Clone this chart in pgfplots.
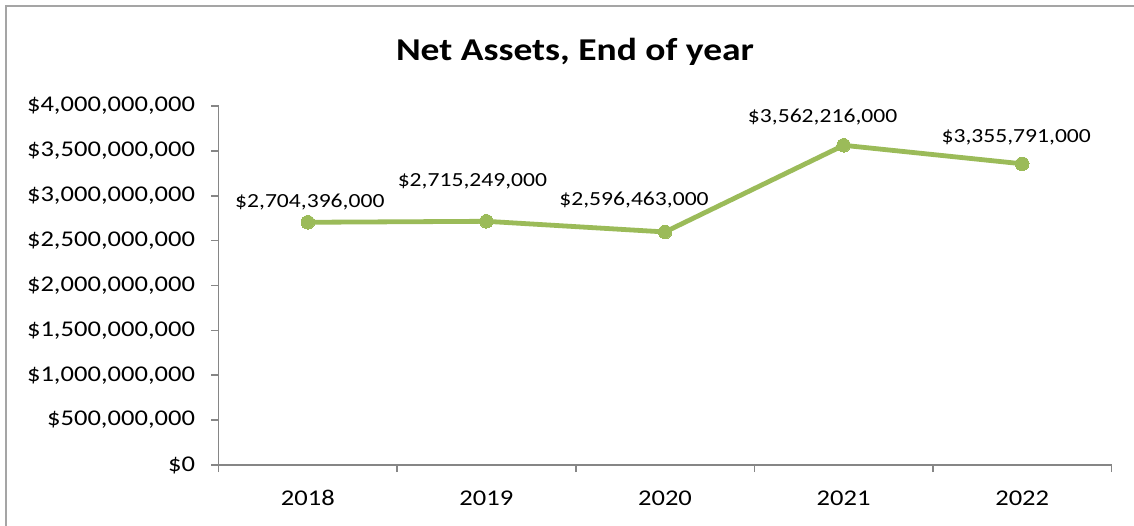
\documentclass[border=0pt]{standalone}
\usepackage{pgfplots}
\pgfplotsset{compat=1.18}
\usepackage{fontspec}
\setmainfont{Carlito}[FakeStretch=1.18]
\definecolor{linegreen}{RGB}{155,187,89}
\definecolor{axisgray}{RGB}{134,134,134}
\definecolor{framegray}{RGB}{165,165,165}
\begin{document}
\begin{tikzpicture}[x=1pt,y=1pt]
\useasboundingbox (0,0) rectangle (1134,-526);
\fill[white] (0,0) rectangle (1134,-526);
\draw[framegray, line width=2pt] (6,-526) -- (6,-6) -- (1134,-6);
\node[font=\fontsize{31.8}{36}\selectfont\bfseries] at (575,-52) {Net Assets, End of year};
\begin{axis}[
  at={(218.5pt,-465pt)}, anchor=south west,
  scale only axis, width=893pt, height=359pt,
  xmin=-0.5, xmax=4.5, ymin=0, ymax=4000000000,
  scaled y ticks=false,
  axis x line*=bottom, axis y line*=left,
  axis line style={axisgray, line width=1.6pt},
  tick style={axisgray, line width=1.6pt},
  tick align=outside,
  major tick length=7pt,
  xtick={-0.5,0.5,1.5,2.5,3.5,4.5},
  xticklabels={,,,,,},
  extra x ticks={0,1,2,3,4},
  extra x tick labels={2018,2019,2020,2021,2022},
  extra x tick style={tick style={draw=none}},
  xticklabel style={yshift=-15pt},
  ytick={0,5e8,1e9,1.5e9,2e9,2.5e9,3e9,3.5e9,4e9},
  yticklabels={{\$0},{\$500,000,000},{\$1,000,000,000},{\$1,500,000,000},{\$2,000,000,000},{\$2,500,000,000},{\$3,000,000,000},{\$3,500,000,000},{\$4,000,000,000}},
  yticklabel style={xshift=-13pt, font=\fontsize{22.5}{25}\selectfont},
  tick label style={font=\fontsize{22.5}{25}\selectfont, text=black},
  clip=false,
]
\addplot[linegreen, line width=4.8pt, mark=*, mark size=6.8pt,
  mark options={fill=linegreen, draw=linegreen, line width=0pt},
  nodes near coords, point meta=explicit symbolic,
  visualization depends on={\thisrow{dx} \as \dx},
  visualization depends on={\thisrow{dy} \as \dy},
  every node near coord/.append style={font=\fontsize{20}{22}\selectfont, anchor=center, inner sep=0pt, xshift=\dx pt, yshift=\dy pt, text=black}]
  table[x=x, y=y, meta=lab] {
x y dx dy lab
0 2704396000 2 20 \$2,704,396,000
1 2715249000 -14 40 \$2,715,249,000
2 2596463000 -31 32 \$2,596,463,000
3 3562216000 -21 28 \$3,562,216,000
4 3355791000 -6 27 \$3,355,791,000
};
\end{axis}
\end{tikzpicture}
\end{document}
